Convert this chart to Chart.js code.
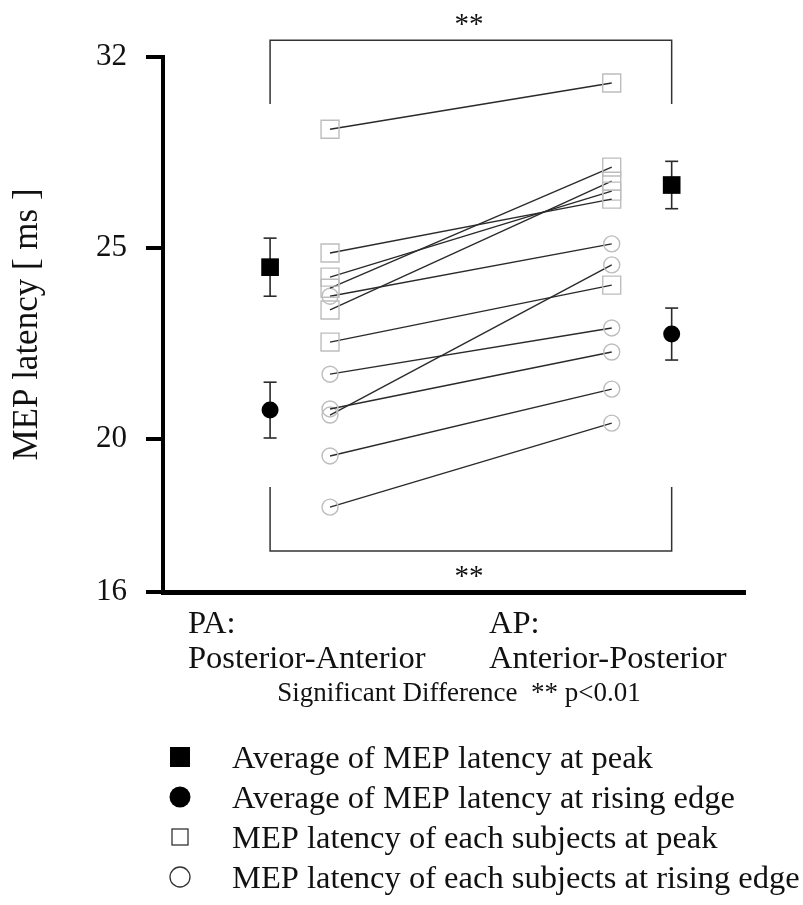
<!DOCTYPE html>
<html>
<head>
<meta charset="utf-8">
<script src="https://cdn.jsdelivr.net/npm/chart.js@4"></script>
<style>
  body { margin: 0; background: #fff; }
  canvas { display: block; }
</style>
</head>
<body>
<canvas id="latencyChart" width="803" height="905"></canvas>
<script>
// tick positions on the axis and the labels printed at them
const tickValues = [16, 20, 25, 30];
const tickLabels = ['16', '20', '25', '32'];

const groupNames = [['PA:', 'Posterior-Anterior'], ['AP:', 'Anterior-Posterior']];

// each subject: PA value, AP value (ms)
const paPeak = [28.11, 24.87, 24.24, 23.95, 23.38, 22.54];
const apPeak = [29.32, 26.28, 26.49, 27.12, 26.75, 24.03];
const paRise = [23.74, 21.70, 20.79, 20.63, 19.56, 18.22];
const apRise = [25.11, 22.91, 22.28, 24.56, 21.31, 20.42];

// group averages [PA, AP] and their error bars
const peakMean = [24.50, 26.65];
const peakErr = [0.76, 0.62];
const riseMean = [20.76, 22.75];
const riseErr = [0.73, 0.68];

// significance brackets: [end of leg, bar level]
const bracketTop = [28.77, 30.44];
const bracketBottom = [18.75, 17.07];

const legendNames = [
    'Average of MEP latency at peak',
    'Average of MEP latency at rising edge',
    'MEP latency of each subjects at peak',
    'MEP latency of each subjects at rising edge'
];

// horizontal placement on a 0..100 axis
const xMean = [18.4, 87.4];
const xSubj = [28.7, 77.1];

const serif = '"Liberation Serif", "Times New Roman", serif';
const lineCol = '#2a2a2a';
const hollowCol = '#bdbdbd';

const datasets = [];

paPeak.forEach((v, i) => {
    datasets.push({
        data: [{x: xSubj[0], y: v}, {x: xSubj[1], y: apPeak[i]}],
        showLine: true, borderColor: lineCol, borderWidth: 1.4,
        pointStyle: 'rect', pointRadius: 12.7,
        pointBorderColor: hollowCol, pointBackgroundColor: 'rgba(0,0,0,0)', pointBorderWidth: 1.4,
        order: 5
    });
});
paRise.forEach((v, i) => {
    datasets.push({
        data: [{x: xSubj[0], y: v}, {x: xSubj[1], y: apRise[i]}],
        showLine: true, borderColor: lineCol, borderWidth: 1.4,
        pointStyle: 'circle', pointRadius: 8,
        pointBorderColor: hollowCol, pointBackgroundColor: 'rgba(0,0,0,0)', pointBorderWidth: 1.4,
        order: 5
    });
});

// error bars, caps drawn as 'line' points
[[peakMean, peakErr], [riseMean, riseErr]].forEach(([m, e]) => {
    m.forEach((v, g) => {
        datasets.push({
            data: [{x: xMean[g], y: v - e[g]}, {x: xMean[g], y: v + e[g]}],
            showLine: true, borderColor: lineCol, borderWidth: 1.6,
            pointStyle: 'line', pointRadius: 6.5, pointBorderColor: lineCol, pointBorderWidth: 1.6,
            order: 3
        });
    });
});

datasets.push({
    data: peakMean.map((v, g) => ({x: xMean[g], y: v})),
    pointStyle: 'rect', pointRadius: 12.5,
    pointBackgroundColor: '#000', pointBorderColor: '#000', pointBorderWidth: 0,
    order: 1
});
datasets.push({
    data: riseMean.map((v, g) => ({x: xMean[g], y: v})),
    pointStyle: 'circle', pointRadius: 8.5,
    pointBackgroundColor: '#000', pointBorderColor: '#000', pointBorderWidth: 0,
    order: 1
});

[bracketTop, bracketBottom].forEach(b => {
    datasets.push({
        data: [{x: xMean[0], y: b[0]}, {x: xMean[0], y: b[1]}, {x: xMean[1], y: b[1]}, {x: xMean[1], y: b[0]}],
        showLine: true, borderColor: '#333', borderWidth: 1.5, pointRadius: 0,
        clip: false, order: 6
    });
});

const textPlugin = {
    id: 'textPlugin',
    afterDraw(chart) {
        const ctx = chart.ctx;
        const xs = chart.scales.x, ys = chart.scales.y;
        ctx.save();
        ctx.fillStyle = '#111';

        // significance stars
        ctx.font = '29px ' + serif;
        ctx.textAlign = 'center';
        ctx.textBaseline = 'alphabetic';
        const mid = (xs.getPixelForValue(xMean[0]) + xs.getPixelForValue(xMean[1])) / 2;
        ctx.fillText('**', mid - 2, ys.getPixelForValue(bracketTop[1]) - 7);
        ctx.fillText('**', mid - 2, ys.getPixelForValue(bracketBottom[1]) + 34);

        // group names under the axis
        ctx.font = '32.5px ' + serif;
        ctx.textAlign = 'left';
        const labelX = [4.3, 56.0];
        groupNames.forEach((lines, g) => {
            lines.forEach((t, k) => {
                ctx.fillText(t, xs.getPixelForValue(labelX[g]), 633 + k * 35);
            });
        });

        ctx.font = '27px ' + serif;
        ctx.textAlign = 'center';
        ctx.fillText('Significant Difference  ** p<0.01', 459, 701);

        // legend
        ctx.font = '32.5px ' + serif;
        ctx.textAlign = 'left';
        ctx.textBaseline = 'middle';
        legendNames.forEach((t, i) => {
            const cy = 757 + i * 40;
            const cx = 180;
            ctx.lineWidth = 1.3;
            ctx.strokeStyle = '#333';
            ctx.fillStyle = '#000';
            if (i === 0) ctx.fillRect(cx - 10, cy - 10, 20, 20);
            if (i === 1) { ctx.beginPath(); ctx.arc(cx, cy, 10.5, 0, Math.PI * 2); ctx.fill(); }
            if (i === 2) ctx.strokeRect(cx - 8, cy - 8, 16, 16);
            if (i === 3) { ctx.beginPath(); ctx.arc(cx, cy, 10, 0, Math.PI * 2); ctx.stroke(); }
            ctx.fillStyle = '#111';
            ctx.fillText(t, 232, cy + 2);
        });
        ctx.restore();
    }
};

new Chart(document.getElementById('latencyChart'), {
    type: 'scatter',
    data: { datasets },
    plugins: [textPlugin],
    options: {
        responsive: false,
        animation: false,
        events: [],
        layout: { padding: { top: 57, right: 58, left: 0, bottom: 0 } },
        plugins: { legend: { display: false }, tooltip: { enabled: false } },
        scales: {
            x: {
                type: 'linear', min: 0, max: 100,
                ticks: { display: false },
                grid: { display: false },
                border: { display: true, color: '#000', width: 5 },
                afterFit: s => { s.height = 313; }
            },
            y: {
                type: 'linear', min: 16, max: 30,
                afterBuildTicks: s => { s.ticks = tickValues.map(v => ({value: v})); },
                afterFit: s => { s.width = 163; },
                ticks: {
                    color: '#111', padding: 19,
                    font: { family: serif, size: 31 },
                    callback: v => tickLabels[tickValues.indexOf(v)]
                },
                grid: { drawOnChartArea: false, drawTicks: true, tickLength: 17, lineWidth: 4, color: '#000' },
                border: { display: true, color: '#000', width: 4 },
                title: {
                    display: true, text: 'MEP latency [ ms ]', color: '#111',
                    font: { family: serif, size: 35 }, padding: { top: 7, bottom: 0 }
                }
            }
        }
    }
});
</script>
</body>
</html>
